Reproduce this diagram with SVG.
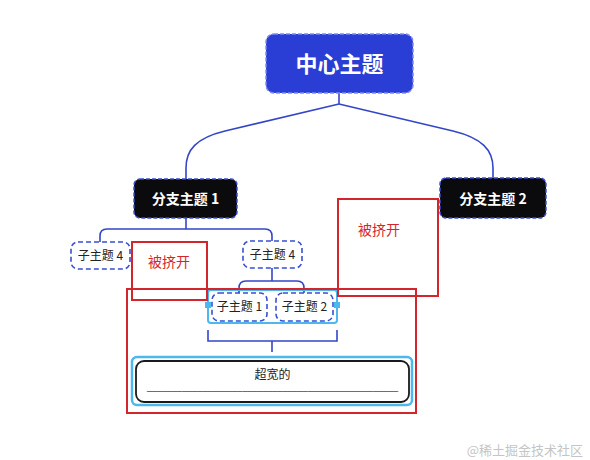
<svg xmlns="http://www.w3.org/2000/svg" width="590" height="460" viewBox="0 0 590 460">
<style>
.cn{font-family:"Noto Sans CJK SC","Liberation Sans",sans-serif}
.con{fill:none;stroke:#3446c8;stroke-width:1.6}
.branch{fill:#0b0b0d;stroke:#3a4fd0;stroke-width:1.5;stroke-dasharray:4 2}
.sub{fill:#fff;stroke:#3a4fd0;stroke-width:1.6;stroke-dasharray:5 3}
.bt{fill:#fff;font-size:14px;font-weight:700;text-anchor:middle}
.st{fill:#222;font-size:12px;text-anchor:middle}
.red{fill:none;stroke:#d3262c;stroke-width:2}
.rt{fill:#d3262c;font-size:14px;text-anchor:middle}
.sel{fill:none;stroke:#4cb8ee;stroke-width:2}
.handle{fill:#4cb8ee}
</style>
<rect width="590" height="460" fill="#fff"/>
<g id="connectors">
<path class="con" d="M339,93 V104"/>
<path class="con" d="M339,104 L225,131 C196,138 186,150 186,168 V179"/>
<path class="con" d="M339,104 L453,131 C482,138 493,150 493,168 V178"/>
<path class="con" d="M186,218 V229"/>
<path class="con" d="M100,242 V236 Q100,229 107,229 H265 Q272,229 272,236 V241"/>
<path class="con" d="M272,268 V281"/>
<path class="con" d="M239,293 V288 Q239,281 246,281 H297 Q304,281 304,288 V293"/>
<path class="con" d="M208,330 V341 H337 V330"/>
<path class="con" d="M272,341 V352"/>
</g>
<g id="root">
<rect x="266" y="34" width="147" height="59" rx="8" fill="#2a3dd5" stroke="#7d8cf0" stroke-width="1.5" stroke-dasharray="4 2"/>
<text class="cn" x="339.5" y="72" fill="#fff" font-size="22" font-weight="700" text-anchor="middle">中心主题</text>
</g>
<g id="branch1">
<rect class="branch" x="134" y="179" width="103" height="39" rx="6"/>
<text class="cn bt" x="185.5" y="204">分支主题 1</text>
</g>
<g id="branch2">
<rect class="branch" x="440" y="178" width="106" height="40" rx="6"/>
<text class="cn bt" x="493" y="204">分支主题 2</text>
</g>
<g id="sub4a">
<rect class="sub" x="71" y="242" width="59" height="27" rx="7"/>
<text class="cn st" x="100.5" y="260">子主题 4</text>
</g>
<g id="sub4b">
<rect class="sub" x="243" y="241" width="59" height="27" rx="7"/>
<text class="cn st" x="272.5" y="259">子主题 4</text>
</g>
<g id="selection">
<rect class="sel" x="208" y="290" width="129" height="33" rx="3"/>
<rect class="handle" x="205" y="302" width="6" height="6"/>
<rect class="handle" x="334" y="302" width="6" height="6"/>
</g>
<g id="sub1">
<rect class="sub" x="212" y="293" width="55" height="28" rx="7"/>
<text class="cn st" x="239.5" y="311">子主题 1</text>
</g>
<g id="sub2">
<rect class="sub" x="276" y="293" width="57" height="28" rx="7"/>
<text class="cn st" x="304.5" y="311">子主题 2</text>
</g>
<g id="wide">
<rect x="132" y="357" width="280" height="48" rx="5" fill="none" stroke="#4cb8ee" stroke-width="2.5"/>
<rect x="136" y="361" width="273" height="41" rx="8" fill="#fff" stroke="#1a1a1a" stroke-width="1.8"/>
<text class="cn st" x="272.5" y="379">超宽的</text>
<text x="147" y="390" font-family="Liberation Sans, sans-serif" font-size="9" fill="#222" textLength="251" lengthAdjust="spacingAndGlyphs">__________________________________________________</text>
</g>
<g id="red-boxes">
<rect class="red" x="132" y="242" width="75" height="58"/>
<text class="cn rt" x="169" y="267">被挤开</text>
<rect class="red" x="338" y="199" width="100" height="97"/>
<text class="cn rt" x="379" y="235">被挤开</text>
<rect class="red" x="127" y="289" width="289" height="124"/>
</g>
<text class="cn" x="583" y="455" fill="#c5c5c5" font-size="13" text-anchor="end">@稀土掘金技术社区</text>
</svg>
